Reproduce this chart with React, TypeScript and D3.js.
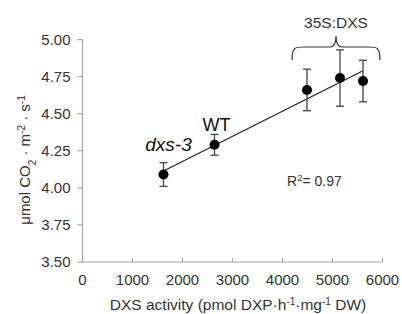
import React from 'react';
import * as d3 from 'd3';

// readings from the picture
const labels = ['dxs-3', 'WT', '35S:DXS 1', '35S:DXS 2', '35S:DXS 3'];
const activity = [1620, 2640, 4490, 5150, 5610];
const photo = [4.09, 4.29, 4.66, 4.74, 4.72];
const errs = [0.08, 0.07, 0.14, 0.19, 0.14];
const xTicks = [0, 1000, 2000, 3000, 4000, 5000, 6000];
const yTicks = [3.5, 3.75, 4.0, 4.25, 4.5, 4.75, 5.0];
const r2Text = '0.97';

const W = 402;
const H = 314;
const font = '"Liberation Sans", Arial, sans-serif';

export default function App() {
  const x = d3.scaleLinear().domain([0, 6000]).range([82.5, 382.5]);
  const y = d3.scaleLinear().domain([3.5, 5.0]).range([262, 39.5]);

  // least squares trend line through the points
  const mx = d3.mean(activity)!;
  const my = d3.mean(photo)!;
  const sxy = d3.sum(activity, (a, i) => (a - mx) * (photo[i] - my));
  const sxx = d3.sum(activity, a => (a - mx) * (a - mx));
  const slope = sxy / sxx;
  const x0 = d3.min(activity)!;
  const x1 = d3.max(activity)!;
  const fit = d3.line<number>().x(d => x(d)).y(d => y(my + slope * (d - mx)));

  // brace over the 35S:DXS lines
  const bL = x(activity[2]) - 15;
  const bR = x(activity[4]) + 17;
  const bM = (bL + bR) / 2;
  const bTop = 36;
  const bMid = 47;
  const bEnd = 60;
  const brace = `M${bL},${bEnd} C${bL},${bMid} ${bL + 3},${bMid} ${bL + 12},${bMid}
    L${bM - 6},${bMid} C${bM - 2},${bMid} ${bM},${bMid - 3} ${bM},${bTop}
    C${bM},${bMid - 3} ${bM + 2},${bMid} ${bM + 6},${bMid}
    L${bR - 12},${bMid} C${bR - 3},${bMid} ${bR},${bMid} ${bR},${bEnd}`;

  const axisCol = '#a6a6a6';
  const txt = '#333';

  return (
    <svg width={W} height={H} style={{ position: 'absolute', left: 0, top: 0, background: '#fff' }} fontFamily={font}>
      {/* axes */}
      <line x1={x(0)} x2={x(0)} y1={y(5.0)} y2={y(3.5)} stroke={axisCol} strokeWidth={1.2} />
      <line x1={x(0)} x2={x(6000)} y1={y(3.5)} y2={y(3.5)} stroke={axisCol} strokeWidth={1.2} />
      {yTicks.map(t => (
        <g key={'y' + t}>
          <line x1={x(0) - 5} x2={x(0)} y1={y(t)} y2={y(t)} stroke={axisCol} strokeWidth={1.2} />
          <text x={x(0) - 12} y={y(t)} dy="0.35em" textAnchor="end" fontSize={15} fill={txt}>
            {t.toFixed(2)}
          </text>
        </g>
      ))}
      {xTicks.map(t => (
        <g key={'x' + t}>
          <line x1={x(t)} x2={x(t)} y1={y(3.5) - 4} y2={y(3.5)} stroke={axisCol} strokeWidth={1.2} />
          <text x={x(t)} y={y(3.5) + 23} textAnchor="middle" fontSize={15} fill={txt}>
            {t}
          </text>
        </g>
      ))}

      {/* axis titles */}
      <text x={238} y={310} textAnchor="middle" fontSize={15.5} fill={txt}>
        DXS activity (pmol DXP·h
        <tspan baselineShift="super" fontSize={10}>-1</tspan>
        ·mg
        <tspan baselineShift="super" fontSize={10}>-1</tspan> DW)
      </text>
      <text transform="translate(30,160) rotate(-90)" textAnchor="middle" fontSize={15} fill={txt}>
        μmol CO
        <tspan baselineShift="sub" fontSize={10}>2</tspan> · m
        <tspan baselineShift="super" fontSize={10}>-2</tspan> · s
        <tspan baselineShift="super" fontSize={10}>-1</tspan>
      </text>

      {/* trend line */}
      <path d={fit([x0, x1]) ?? ''} fill="none" stroke="#222" strokeWidth={1.2} />

      {/* error bars and points */}
      {activity.map((a, i) => (
        <g key={labels[i]}>
          <line x1={x(a)} x2={x(a)} y1={y(photo[i] + errs[i])} y2={y(photo[i] - errs[i])} stroke="#444" strokeWidth={1.3} />
          <line x1={x(a) - 4} x2={x(a) + 4} y1={y(photo[i] + errs[i])} y2={y(photo[i] + errs[i])} stroke="#444" strokeWidth={1.3} />
          <line x1={x(a) - 4} x2={x(a) + 4} y1={y(photo[i] - errs[i])} y2={y(photo[i] - errs[i])} stroke="#444" strokeWidth={1.3} />
          <circle cx={x(a)} cy={y(photo[i])} r={5} fill="#000" />
        </g>
      ))}

      {/* annotations */}
      <text x={x(activity[0]) + 5} y={y(photo[0]) - 23} textAnchor="middle" fontSize={19} fontStyle="italic" fill="#111">
        dxs-3
      </text>
      <text x={x(activity[1]) + 2} y={y(photo[1]) - 14} textAnchor="middle" fontSize={18} fill="#111">
        WT
      </text>
      <path d={brace} fill="none" stroke="#333" strokeWidth={1.2} />
      <text x={bM} y={28} textAnchor="middle" fontSize={15.5} fill={txt}>
        35S:DXS
      </text>
      <text x={287} y={186} fontSize={14} fill={txt}>
        R<tspan baselineShift="super" fontSize={9.5}>2</tspan>= {r2Text}
      </text>
    </svg>
  );
}
